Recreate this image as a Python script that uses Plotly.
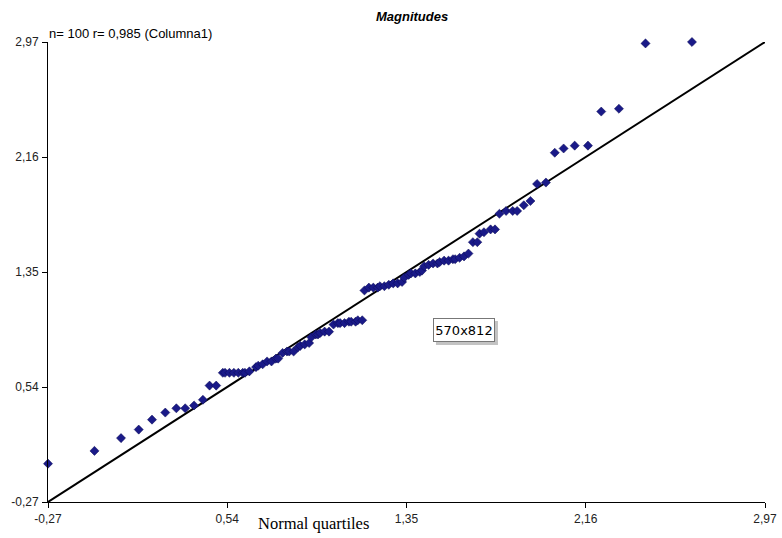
import plotly.graph_objects as go

# Normal quantiles (x) and sorted magnitudes (y)
x_vals = [-0.27, -0.06, 0.06, 0.14, 0.20, 0.26, 0.31, 0.35, 0.39, 0.43, 0.46, 0.49,
          0.52, 0.53, 0.55, 0.57, 0.59, 0.61, 0.62, 0.64,
          0.67, 0.68, 0.70, 0.72, 0.74, 0.76, 0.77,
          0.79, 0.81, 0.82, 0.84,
          0.86, 0.87, 0.89, 0.91,
          0.92, 0.94, 0.95, 0.96, 0.98, 1.00,
          1.02, 1.04, 1.05, 1.07, 1.09, 1.10, 1.12, 1.13, 1.15,
          1.16, 1.18, 1.20, 1.22, 1.23, 1.25, 1.27, 1.29, 1.31, 1.33,
          1.34, 1.36, 1.37, 1.39, 1.41, 1.42,
          1.43, 1.45, 1.47, 1.49, 1.50, 1.52, 1.54, 1.56, 1.57, 1.59, 1.61, 1.63,
          1.65, 1.67,
          1.68, 1.70, 1.73, 1.75,
          1.77, 1.80, 1.83, 1.85,
          1.88, 1.91,
          1.94, 1.98,
          2.02, 2.06, 2.11, 2.17,
          2.23, 2.31,
          2.43, 2.64]
y_vals = [0.00, 0.09, 0.18, 0.24, 0.31, 0.36, 0.39, 0.39, 0.41, 0.45, 0.55, 0.55,
          0.64, 0.64, 0.64, 0.64, 0.64, 0.64, 0.64, 0.65,
          0.68, 0.69, 0.70, 0.72, 0.72, 0.74, 0.74,
          0.78, 0.79, 0.79, 0.79,
          0.82, 0.83, 0.84, 0.85,
          0.89, 0.91, 0.91, 0.92, 0.93, 0.93,
          0.98, 0.99, 0.99, 0.99, 1.00, 1.00, 1.00, 1.01, 1.01,
          1.22, 1.24, 1.24, 1.24, 1.25, 1.25, 1.26, 1.27, 1.27, 1.28,
          1.31, 1.33, 1.34, 1.34, 1.35, 1.36,
          1.39, 1.40, 1.41, 1.41, 1.42, 1.43, 1.43, 1.44, 1.44, 1.45, 1.46, 1.48,
          1.56, 1.56,
          1.62, 1.63, 1.65, 1.65,
          1.76, 1.78, 1.78, 1.78,
          1.82, 1.85,
          1.97, 1.98,
          2.19, 2.22, 2.24, 2.24,
          2.48, 2.50,
          2.96, 2.97]

ref_line = [-0.27, 2.97]
tick_vals = [-0.27, 0.54, 1.35, 2.16, 2.97]
tick_text = ["-0,27", "0,54", "1,35", "2,16", "2,97"]

fig = go.Figure()
fig.add_trace(go.Scatter(x=ref_line, y=ref_line, mode="lines",
                         line=dict(color="black", width=2), hoverinfo="skip"))
fig.add_trace(go.Scatter(x=x_vals, y=y_vals, mode="markers",
                         marker=dict(symbol="diamond", size=7, color="#1a1a88",
                                     line=dict(color="#0a0a55", width=0.5)),
                         cliponaxis=False))

axis_common = dict(range=[-0.27, 2.97], tickvals=tick_vals, ticktext=tick_text,
                   showgrid=False, zeroline=False, showline=True, linecolor="black",
                   linewidth=1, ticks="outside", ticklen=5, tickcolor="black",
                   automargin=False,
                   tickfont=dict(family="Liberation Sans, Arial", size=12, color="#222"))

fig.update_layout(
    width=782, height=538,
    margin=dict(l=48, r=17, t=42, b=36),
    paper_bgcolor="white", plot_bgcolor="white",
    showlegend=False,
    xaxis=dict(**axis_common, ticklabelstandoff=1),
    yaxis=dict(**axis_common, ticklabelstandoff=1),
    title=dict(text="<b><i>Magnitudes</i></b>", x=0.527, xanchor="center",
               y=0.97, yanchor="middle",
               font=dict(family="Liberation Sans, Arial", size=13, color="black")),
    annotations=[
        dict(text="n= 100 r= 0,985 (Columna1)", xref="paper", yref="paper",
             x=-0.002, y=0.998, xanchor="left", yanchor="bottom", showarrow=False,
             font=dict(family="Liberation Sans, Arial", size=13, color="black")),
        dict(text="Normal quartiles", xref="paper", yref="paper",
             x=0.3696, y=-0.046, xanchor="center", yanchor="middle", showarrow=False,
             font=dict(family="Liberation Serif, Times New Roman", size=16.5, color="black")),
        dict(text="570x812", xref="paper", yref="paper",
             x=0.5802, y=0.3739, xanchor="center", yanchor="middle", showarrow=False,
             width=56, height=18, borderpad=2,
             bgcolor="white", bordercolor="#777", borderwidth=1,
             font=dict(family="DejaVu Sans, Liberation Sans", size=13, color="black")),
    ],
)
fig.add_shape(type="rect", xref="paper", yref="paper",
              x0=0.5411, x1=0.6276, y0=0.3413, y1=0.3935,
              fillcolor="#aaaaaa", line=dict(width=0), layer="above", opacity=0.7)
fig.write_html("out.html", config={"displayModeBar": False},
               post_script="document.body.style.margin='0';")
